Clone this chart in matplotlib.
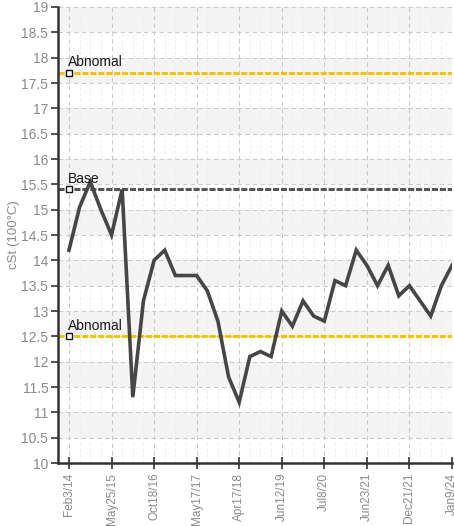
import numpy as np
import matplotlib.pyplot as plt

# viscosity samples, one per oil test, evenly spaced along x
cst = [14.2, 15.05, 15.55, 15.0, 14.5, 15.4, 11.3, 13.2, 14.0, 14.2,
       13.7, 13.7, 13.7, 13.4, 12.8, 11.7, 11.2, 12.1, 12.2, 12.1,
       13.0, 12.7, 13.2, 12.9, 12.8, 13.6, 13.5, 14.2, 13.9, 13.5,
       13.9, 13.3, 13.5, 13.2, 12.9, 13.5, 13.9]
date_labels = ['Feb3/14', 'May25/15', 'Oct18/16', 'May17/17', 'Apr17/18',
               'Jun12/19', 'Jul8/20', 'Jun23/21', 'Dec21/21', 'Jan9/24']
label_every = 4

abnormal_hi = 17.7
base = 15.4
abnormal_lo = 12.5

plt.rcParams['font.family'] = ['Liberation Sans', 'DejaVu Sans']

fig = plt.figure(figsize=(4.54, 5.26), dpi=100)
ax = fig.add_axes([58 / 454, 63 / 526, 394 / 454, 456 / 526])

x = np.arange(len(cst))

# alternating grey bands every half unit
for lo in np.arange(10.5, 19, 1.0):
    ax.axhspan(lo, lo + 0.5, color='#f4f4f4', zorder=0, lw=0)

ax.set_ylim(10, 19)
ax.set_xlim(-1.03, len(cst) - 1)
yt = np.arange(10, 19.01, 0.5)
ax.set_yticks(yt)
ax.set_yticklabels(['%g' % v for v in yt])
ticks = np.arange(0, len(cst), label_every)
ax.set_xticks(ticks)
ax.set_xticklabels(date_labels, rotation=90)
ax.set_xticks(x, minor=True)

ax.grid(True, which='major', color='#cbcbcb', lw=0.8, ls=(0, (4, 3)), zorder=1)
ax.grid(True, which='minor', axis='x', color='#ededed', lw=0.6, ls=(0, (4, 3)), zorder=1)

# reference levels
ax.axhline(abnormal_hi, color='#f5c400', lw=2.2, ls=(0, (2.0, 0.6)), zorder=2)
ax.axhline(base, color='#555555', lw=2.2, ls=(0, (2.0, 0.6)), zorder=2)
ax.axhline(abnormal_lo, color='#f5c400', lw=2.2, ls=(0, (2.0, 0.6)), zorder=2)

ax.plot(x, cst, color='#464646', lw=2.6, zorder=3, solid_joinstyle='miter')

for level, name in [(abnormal_hi, 'Abnomal'), (base, 'Base'), (abnormal_lo, 'Abnomal')]:
    ax.plot(0, level, marker='s', ms=4.5, mfc='white', mec='#111111', mew=1.0, zorder=4, clip_on=False)
    ax.annotate(name, (0, level), xytext=(-0.5, 2.5), textcoords='offset points',
                fontsize=10, color='#1a1a1a', va='bottom', ha='left', zorder=5)

for s in ['top', 'right']:
    ax.spines[s].set_visible(False)
for s in ['left', 'bottom']:
    ax.spines[s].set_color('#333333')
    ax.spines[s].set_linewidth(1.8)

ax.tick_params(axis='y', which='major', direction='out', length=5, width=1.2,
               color='#333333', labelcolor='#8a8a8a', labelsize=10, pad=2)
ax.tick_params(axis='x', which='major', direction='inout', length=8, width=1.2,
               color='#333333', labelcolor='#8a8a8a', labelsize=8.5, pad=3)
ax.tick_params(axis='x', which='minor', length=0)

ax.set_ylabel('cSt (100°C)', color='#8a8a8a', fontsize=9.5, labelpad=1)

fig.savefig('out.png', dpi=100)
